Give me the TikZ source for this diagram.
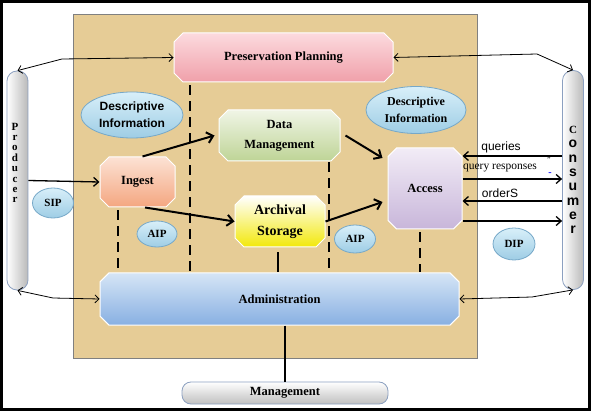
\documentclass[tikz,border=0pt]{standalone}
\usepackage{fontspec}
\setmainfont{Liberation Serif}
\setsansfont{Liberation Sans}
\usetikzlibrary{shapes,arrows,arrows.meta,shapes.geometric,shapes.misc,calc}
\usetikzlibrary{positioning}

\definecolor{tanbg}{RGB}{230,204,150}
\definecolor{plantop}{RGB}{252,218,222}
\definecolor{planbot}{RGB}{240,160,170}
\definecolor{dmtop}{RGB}{240,245,230}
\definecolor{dmbot}{RGB}{190,212,150}
\definecolor{ingtop}{RGB}{252,226,212}
\definecolor{ingbot}{RGB}{244,166,128}
\definecolor{acctop}{RGB}{242,236,246}
\definecolor{accbot}{RGB}{200,182,218}
\definecolor{archbot}{RGB}{242,232,10}
\definecolor{admtop}{RGB}{214,229,246}
\definecolor{admbot}{RGB}{136,176,226}
\definecolor{infotop}{RGB}{216,239,249}
\definecolor{infobot}{RGB}{158,205,229}
\definecolor{infoline}{RGB}{118,168,200}
\definecolor{actorline}{RGB}{140,160,192}

\begin{document}
\begin{tikzpicture}[x=1pt, y=-1pt]
	\tikzset{box/.style={chamfered rectangle, chamfered rectangle xsep=4.5pt, chamfered rectangle ysep=4.5pt, inner sep=0pt, draw=white, line width=1pt, font=\bfseries\fontsize{12.5}{20}\selectfont, align=center}};
	\tikzset{info/.style={ellipse, draw=infoline, line width=0.8pt, top color=infotop, bottom color=infobot, inner sep=0pt, font=\bfseries\fontsize{12}{17}\selectfont, align=center}};
	\tikzset{pack/.style={info, font=\bfseries\fontsize{11}{13}\selectfont}};
	\tikzset{actor/.style={rectangle, rounded corners=10pt, draw=actorline, line width=0.8pt, left color=white, right color=gray!55, minimum width=21pt, minimum height=219pt, inner sep=0pt}};
	\tikzset{flow/.style={-{Straight Barb[length=6pt, width=11pt]}, line width=2pt}};
	\tikzset{link/.style={{Straight Barb[length=4pt, width=8pt]}-{Straight Barb[length=4pt, width=8pt]}, line width=0.8pt}};
	\tikzset{msg/.style={-{Straight Barb[length=5pt, width=9pt]}, line width=1.3pt}};
	\tikzset{sep/.style={line width=2pt, dash pattern=on 10pt off 6pt}};

	\useasboundingbox (0,0) rectangle (591,411);
	\draw [line width=3pt] (1.5,1.5) rectangle (589.5,409.5);
	% Place nodes
	\node [rectangle, draw=gray, line width=0.8pt, fill=tanbg, minimum width=404pt, minimum height=344pt, inner sep=0pt] (oais) at (275,186) {};
	\node [box, top color=plantop, bottom color=planbot, minimum width=219pt, minimum height=49pt] (plan) at (283.5,57.5) {Preservation Planning};
	\node [box, top color=dmtop, bottom color=dmbot, minimum width=121pt, minimum height=51pt] (dm) at (279.5,135.5) {Data\\Management};
	\node [box, top color=ingtop, bottom color=ingbot, minimum width=75pt, minimum height=50pt] (ingest) at (137.5,182) {Ingest};
	\node [box, top color=white, bottom color=archbot, minimum width=90pt, minimum height=51pt, font=\bfseries\fontsize{14}{21}\selectfont] (archival) at (280,221.5) {Archival\\Storage};
	\node [box, top color=acctop, bottom color=accbot, minimum width=74pt, minimum height=81pt] (access) at (425,188.5) {Access};
	\node [box, top color=admtop, bottom color=admbot, minimum width=359pt, minimum height=52pt] (admin) at (279.5,299) {Administration};
	\node [rectangle, rounded corners=9pt, draw=actorline, line width=0.8pt, top color=white, bottom color=gray!50, minimum width=206pt, minimum height=22pt, inner sep=0pt, font=\bfseries\fontsize{12.5}{14}\selectfont] (mgmt) at (285,393) {Management};

	\node [actor] (producer) at (17.5,180.5) {};
	\node [font=\bfseries\fontsize{11}{10.4}\selectfont, align=center] (prodname) at (15,163) {P\\r\\o\\d\\u\\c\\e\\r};
	\node [actor, font=\sffamily\bfseries\fontsize{14}{14.3}\selectfont, align=center] (consumer) at (573,180) {{\rmfamily\fontsize{11}{14.3}\selectfont C}\\o\\n\\s\\u\\m\\e\\r};

	\node [info, font=\sffamily\bfseries\fontsize{12}{17}\selectfont, minimum width=102pt, minimum height=46pt] (descin) at (132,115) {Descriptive\\Information};
	\node [info, minimum width=100pt, minimum height=47pt] (descout) at (416,110) {Descriptive\\Information};
	\node [pack, minimum width=41pt, minimum height=30pt] (sip) at (53,203) {SIP};
	\node [pack, minimum width=40pt, minimum height=26pt] (aipin) at (157,234) {AIP};
	\node [pack, minimum width=41pt, minimum height=28pt] (aipout) at (355,239) {AIP};
	\node [pack, minimum width=42pt, minimum height=32pt] (dip) at (514,244) {DIP};

	\node [font=\sffamily\fontsize{12}{14}\selectfont] (qlbl) at (501,147) {queries};
	\node [font=\fontsize{11.5}{14}\selectfont] (rlbl) at (500,168) {query responses};
	\node [font=\sffamily\fontsize{12}{14}\selectfont] (olbl) at (500,193) {orderS};
	\node [font=\fontsize{8}{8}\selectfont] (qmark) at (549,160) {"};
	\node [text=blue, font=\bfseries\fontsize{10}{10}\selectfont] (bdash) at (550,174) {-};

	%Place draw
	\coordinate (pbend) at (62,59);
	\coordinate (cbend) at (537,54);
	\coordinate (abend) at (53,298);
	\coordinate (dbend) at (532,297);
	\draw [link] (producer.north) -- (pbend) -- (plan.west);
	\draw [link] (plan.east) -- (cbend) -- (consumer.north);
	\draw [link] (producer.south) -- (abend) -- (admin.west);
	\draw [link] (admin.east) -- (dbend) -- (consumer.south);

	\draw [msg] (producer.east) -- (ingest.west);
	\draw [flow] ([xshift=5pt]ingest.north) -- ([xshift=-4pt]dm.west);
	\draw [flow] ([xshift=7.5pt]ingest.south) -- (archival.west);
	\draw [flow] ([xshift=5pt]dm.east) -- ([xshift=-5pt,yshift=30.5pt]access.west);
	\draw [flow] (archival.east) -- ([xshift=-5pt,yshift=-13.5pt]access.west);

	\draw [msg] ([yshift=24pt]consumer.west) -- ([yshift=32.5pt]access.east);
	\draw [msg] ([yshift=9.5pt]access.east) -- ([yshift=1pt]consumer.west);
	\draw [msg] ([yshift=-21pt]consumer.west) -- ([yshift=-12.5pt]access.east);
	\draw [msg] ([yshift=-32.5pt]access.east) -- ([yshift=-41pt]consumer.west);

	\coordinate (s1) at ([xshift=-19.5pt,yshift=-3pt]ingest.south);
	\coordinate (s2) at ([xshift=-93.5pt,yshift=-3pt]plan.south);
	\coordinate (s3) at ([xshift=49.5pt,yshift=-1pt]dm.south);
	\coordinate (s4) at ([xshift=-5pt,yshift=-3pt]access.south);
	\coordinate (s5) at ([xshift=-2pt,yshift=-5pt]archival.south);
	\draw [sep] (s1) -- (s1 |- admin.north);
	\draw [sep] (s2) -- (s2 |- admin.north);
	\draw [sep] (s3) -- (s3 |- admin.north);
	\draw [sep] (s4) -- (s4 |- admin.north);
	\draw [line width=2pt] (s5) -- (s5 |- admin.north);
	\draw [line width=1.2pt] (admin.south -| mgmt.north) -- (mgmt.north);

\end{tikzpicture}
\end{document}
